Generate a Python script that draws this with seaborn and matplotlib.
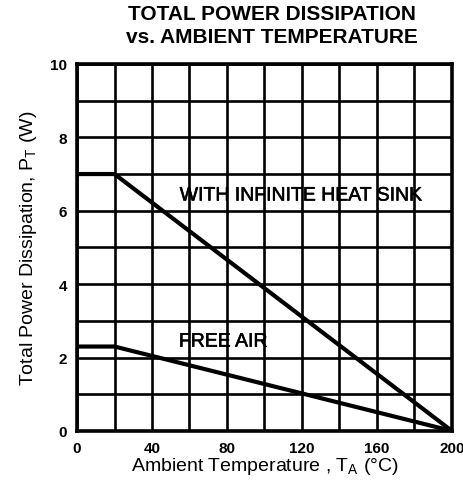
import matplotlib
matplotlib.use("Agg")
import matplotlib.pyplot as plt
import matplotlib.patheffects as pe
import seaborn as sns
import pandas as pd

# dados do gráfico
temp_ambiente = [0, 20, 200]
potencia_dissipador = [7.0, 7.0, 0.0]
potencia_ar_livre = [2.3, 2.3, 0.0]

x_ticks = [0, 40, 80, 120, 160, 200]
y_ticks = [0, 2, 4, 6, 8, 10]

sns.set_style("white")
plt.rcParams['font.family'] = ['Liberation Sans', 'DejaVu Sans']
plt.rcParams['text.color'] = 'black'
plt.rcParams['axes.labelcolor'] = 'black'
plt.rcParams['xtick.color'] = 'black'
plt.rcParams['ytick.color'] = 'black'

df = pd.DataFrame({
    "temp": temp_ambiente * 2,
    "pot": potencia_dissipador + potencia_ar_livre,
    "curva": ["WITH INFINITE HEAT SINK"] * 3 + ["FREE AIR"] * 3,
})

fig = plt.figure(figsize=(4.64, 4.81), dpi=100)
ax = fig.add_axes([0.166, 0.102, 0.808, 0.763])

sns.lineplot(data=df, x="temp", y="pot", units="curva", estimator=None,
             color="black", linewidth=3.0, ax=ax, legend=False)

ax.set_xlim(0, 200)
ax.set_ylim(0, 10)
ax.set_xticks(range(0, 201, 20), minor=True)
ax.set_yticks(range(0, 11, 1), minor=True)
ax.set_xticks(x_ticks)
ax.set_yticks(y_ticks)
ax.grid(True, which="both", color="black", linewidth=1.9)
ax.tick_params(which="both", length=0, labelsize=11)
ax.tick_params(axis="x", pad=7)
ax.tick_params(axis="y", pad=7)
for lab in ax.get_xticklabels() + ax.get_yticklabels():
    lab.set_fontweight("bold")
for s in ax.spines.values():
    s.set_linewidth(2.6)
    s.set_color("black")

grosso = [pe.withStroke(linewidth=0.4, foreground="black")]
ax.text(119.5, 6.4, "WITH INFINITE HEAT SINK", ha="center", va="center",
        fontsize=14, path_effects=grosso)
ax.text(78, 2.42, "FREE AIR", ha="center", va="center",
        fontsize=14, path_effects=grosso)

ax.set_xlabel("Ambient Temperature , T$_\\mathregular{A}$ (°C)", fontsize=14, labelpad=0)
ax.set_ylabel("Total Power Dissipation, P$_\\mathregular{T}$ (W)", fontsize=14, labelpad=8)

fig.suptitle("TOTAL POWER DISSIPATION\nvs. AMBIENT TEMPERATURE", x=0.585, y=0.99,
             fontsize=15, fontweight="bold", linespacing=1.3)

fig.savefig("out.png", dpi=100)
